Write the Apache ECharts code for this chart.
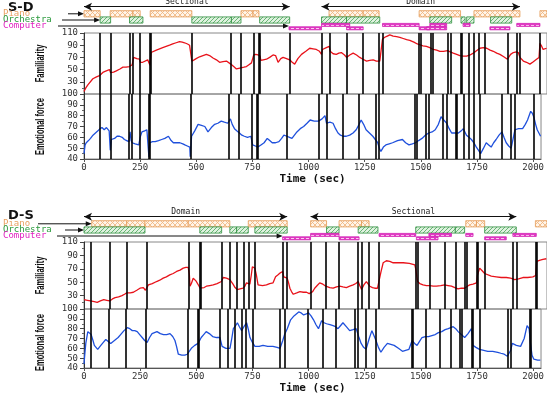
<!DOCTYPE html>
<html>
<head>
<meta charset="utf-8">
<script src="https://cdn.jsdelivr.net/npm/echarts@6.0.0/dist/echarts.min.js"></script>
<style>
  html, body { margin: 0; padding: 0; background: #fff; }
  #chart { width: 547px; height: 395px; }
</style>
</head>
<body>
<div id="chart"></div>
<script>
// time axis (sec)
const timeMax = 2035
const timeTicks = [0, 250, 500, 750, 1000, 1250, 1500, 1750, 2000]

// ---- S-D panel ----
const sdFamiliarity = [[0,14],[8,20],[17,25],[39,35],[55,38],[68,40],[71,43],[85,46],[98,48],[112,50],[117,45],[130,46],[142,48],[158,51],[171,54],[185,54],[200,55],[212,58],[218,70],[232,68],[244,67],[248,62],[258,62],[266,64],[280,66],[288,68],[290,57],[295,78],[303,80],[318,82],[332,84],[346,86],[361,88],[376,90],[390,92],[405,94],[420,96],[432,95],[442,94],[455,92],[464,90],[472,89],[474,64],[484,66],[493,68],[508,71],[523,73],[538,75],[552,73],[567,69],[582,66],[596,62],[611,63],[626,64],[645,59],[658,55],[670,51],[680,52],[690,53],[703,54],[714,55],[725,58],[736,61],[746,74],[755,75],[765,74],[774,72],[777,65],[788,66],[802,67],[816,70],[831,74],[842,73],[853,62],[865,68],[875,70],[890,68],[904,66],[915,62],[926,59],[940,68],[956,75],[975,80],[992,85],[1007,84],[1021,83],[1035,80],[1044,75],[1048,83],[1065,86],[1078,88],[1082,80],[1095,76],[1109,75],[1120,77],[1131,78],[1145,74],[1154,70],[1168,74],[1183,77],[1198,74],[1212,70],[1226,67],[1242,64],[1256,65],[1271,66],[1285,64],[1300,64],[1308,63],[1312,100],[1322,103],[1333,105],[1344,107],[1359,105],[1374,104],[1388,103],[1403,101],[1418,99],[1432,98],[1450,95],[1465,92],[1473,90],[1490,89],[1505,88],[1520,86],[1535,83],[1550,82],[1564,80],[1580,80],[1598,81],[1610,79],[1623,77],[1638,75],[1652,73],[1667,72],[1682,72],[1697,74],[1711,77],[1725,81],[1740,85],[1755,86],[1770,85],[1785,82],[1799,80],[1814,77],[1828,75],[1845,71],[1861,67],[1875,75],[1887,78],[1900,79],[1909,78],[1916,70],[1931,64],[1945,62],[1960,59],[1975,63],[1989,67],[2000,70],[2004,93],[2012,88],[2018,83],[2033,85]]
const sdEmotion = [[0,45],[5,53],[10,55],[20,57],[29,59],[40,62],[51,64],[62,66],[71,68],[80,69],[90,67],[100,69],[105,68],[112,66],[117,48],[122,58],[136,59],[147,61],[158,61],[170,60],[180,58],[190,57],[200,56],[205,65],[210,57],[214,55],[228,54],[244,53],[250,60],[258,65],[270,66],[280,67],[286,66],[289,42],[293,55],[305,56],[317,56],[332,57],[346,58],[360,59],[376,61],[388,57],[398,55],[412,55],[427,55],[440,54],[449,53],[460,52],[471,51],[473,42],[479,61],[493,66],[508,72],[523,71],[538,70],[552,65],[567,69],[582,72],[596,73],[611,75],[625,74],[640,73],[646,75],[652,77],[660,72],[670,68],[680,66],[692,64],[703,62],[714,61],[728,60],[743,61],[751,53],[763,52],[774,51],[788,53],[802,55],[816,59],[827,57],[838,55],[853,55],[868,56],[880,59],[890,62],[904,61],[915,60],[926,59],[937,62],[948,65],[963,68],[978,70],[993,73],[1007,76],[1025,75],[1044,75],[1060,77],[1073,80],[1080,73],[1095,74],[1109,73],[1120,68],[1131,64],[1142,62],[1154,61],[1168,61],[1183,62],[1198,64],[1212,67],[1225,72],[1234,76],[1245,72],[1256,67],[1271,64],[1286,61],[1297,58],[1308,55],[1315,50],[1322,47],[1333,51],[1344,53],[1359,54],[1374,55],[1396,57],[1418,58],[1432,55],[1447,53],[1462,54],[1476,55],[1490,57],[1505,59],[1520,62],[1535,64],[1550,65],[1564,67],[1578,72],[1590,79],[1602,76],[1615,73],[1626,68],[1637,64],[1652,64],[1667,64],[1680,66],[1689,68],[1703,62],[1714,60],[1725,58],[1736,55],[1747,51],[1757,48],[1766,45],[1779,50],[1791,55],[1802,53],[1813,51],[1824,55],[1835,58],[1848,62],[1861,65],[1870,60],[1880,55],[1891,52],[1902,50],[1919,67],[1935,68],[1953,68],[1965,72],[1975,76],[1989,84],[1997,82],[2004,78],[2011,72],[2018,67],[2033,61]]
const sdEvents = [71,117,200,214,247,288,293,474,645,690,746,770,774,904,1044,1080,1154,1224,1297,1312,1473,1481,1523,1535,1598,1613,1654,1660,1689,1714,1737,1762,1861,1902,1916,2004]
const sdPiano = [[0,71],[115,215],[215,247],[291,474],[690,743],[743,769],[1077,1227],[1227,1297],[1473,1655],[1714,1916],[2004,2035]]
const sdOrchestra = [[71,117],[200,259],[474,648],[648,690],[772,904],[1044,1154],[1154,1300],[1520,1616],[1657,1675],[1682,1714],[1787,1880]]
const sdComputer = [[901,1044,1],[1044,1168,0],[1154,1227,1],[1312,1473,0],[1473,1520,1],[1520,1594,0],[1506,1594,1],[1666,1697,0],[1784,1872,1],[1902,2004,0]]
const sdSections = [['Sectional', 0, 904], ['Domain', 1044, 1916]]

// ---- D-S panel ----
const dsFamiliarity = [[0,24],[15,23],[29,22],[45,21],[58,20],[72,22],[87,24],[100,23],[113,22],[125,25],[137,27],[152,28],[167,30],[178,32],[188,34],[203,34],[217,35],[232,38],[246,41],[261,42],[270,38],[275,36],[283,46],[300,48],[319,51],[333,53],[348,56],[362,58],[377,61],[392,63],[407,66],[422,68],[436,71],[448,72],[458,72],[463,62],[466,44],[472,48],[480,56],[492,52],[506,44],[510,41],[516,41],[528,42],[538,44],[553,45],[568,46],[585,48],[604,51],[612,57],[626,56],[641,54],[655,47],[664,42],[673,39],[686,40],[699,41],[707,44],[714,49],[722,47],[729,47],[735,60],[740,73],[751,71],[758,60],[765,46],[785,45],[802,46],[816,48],[831,49],[842,58],[853,61],[863,64],[873,66],[878,58],[893,56],[900,48],[905,41],[912,36],[920,32],[935,34],[949,36],[964,35],[978,35],[990,33],[996,31],[1005,36],[1014,41],[1025,45],[1036,49],[1050,47],[1063,44],[1080,42],[1095,41],[1110,43],[1124,44],[1138,43],[1153,42],[1168,44],[1183,46],[1195,48],[1205,51],[1212,45],[1220,39],[1230,46],[1241,51],[1256,44],[1268,42],[1278,41],[1290,41],[1297,41],[1305,65],[1315,79],[1329,82],[1344,81],[1359,79],[1381,79],[1403,79],[1430,78],[1454,76],[1458,70],[1466,51],[1476,48],[1490,46],[1505,45],[1520,45],[1535,44],[1549,44],[1568,45],[1585,46],[1600,45],[1615,44],[1630,42],[1644,40],[1658,41],[1673,41],[1685,44],[1695,46],[1710,47],[1725,49],[1729,60],[1739,71],[1750,67],[1761,63],[1768,61],[1790,59],[1812,58],[1834,57],[1856,57],[1875,56],[1893,54],[1910,55],[1929,57],[1950,57],[1973,58],[1985,60],[1990,81],[2005,83],[2017,84],[2032,85]]
const dsEmotion = [[0,44],[4,55],[8,65],[17,77],[25,75],[32,74],[40,68],[46,63],[54,61],[61,59],[68,61],[75,63],[86,66],[97,69],[108,67],[119,65],[130,67],[141,69],[152,71],[163,74],[178,78],[193,81],[204,80],[215,78],[226,78],[237,77],[248,74],[259,71],[270,68],[281,66],[292,71],[303,75],[314,76],[325,77],[340,75],[354,74],[368,74],[383,75],[395,72],[405,68],[412,62],[420,54],[435,53],[449,53],[460,54],[468,56],[478,60],[493,63],[508,65],[515,68],[522,71],[533,74],[544,77],[558,75],[573,72],[590,71],[605,71],[610,71],[615,62],[632,60],[650,60],[658,70],[665,80],[675,83],[683,86],[692,82],[702,78],[712,82],[724,86],[732,79],[739,71],[750,66],[761,62],[780,62],[797,63],[818,62],[841,62],[860,61],[873,60],[885,68],[893,74],[905,80],[920,89],[935,93],[956,97],[967,96],[978,94],[990,95],[1000,96],[1011,93],[1022,89],[1033,84],[1044,80],[1058,88],[1069,86],[1080,85],[1095,84],[1109,83],[1120,82],[1131,80],[1142,83],[1153,86],[1168,82],[1183,78],[1198,79],[1212,80],[1223,72],[1234,65],[1245,61],[1256,59],[1270,70],[1282,78],[1291,73],[1300,68],[1311,61],[1322,56],[1336,61],[1351,65],[1366,64],[1381,63],[1400,60],[1418,57],[1432,58],[1447,59],[1461,68],[1472,65],[1483,63],[1494,67],[1505,71],[1520,72],[1534,72],[1549,73],[1564,74],[1578,76],[1593,77],[1608,79],[1622,80],[1644,82],[1655,80],[1666,77],[1680,74],[1695,71],[1710,75],[1725,80],[1732,63],[1745,61],[1761,59],[1780,58],[1798,57],[1820,57],[1842,56],[1856,55],[1871,54],[1885,52],[1893,50],[1900,58],[1907,65],[1925,63],[1944,62],[1960,70],[1973,83],[1982,80],[1988,65],[1995,53],[2003,49],[2010,47],[2020,48],[2032,48]]
const dsEvents = [31,111,188,275,461,507,511,605,641,673,703,722,751,873,893,996,1063,1121,1205,1220,1253,1297,1458,1466,1520,1585,1632,1673,1681,1725,1729,1761,1885,1900,1985,1991]
const dsPiano = [[34,188],[188,268],[268,458],[458,641],[722,893],[996,1066],[1121,1220],[1220,1253],[1678,1725],[1725,1761],[1984,2035]]
const dsOrchestra = [[0,268],[509,605],[641,671],[671,722],[751,893],[1066,1121],[1205,1292],[1458,1632],[1632,1673],[1761,1900]]
const dsComputer = [[873,996,1],[996,1121,0],[1121,1209,1],[1297,1458,0],[1461,1556,1],[1516,1615,0],[1678,1710,0],[1761,1856,1],[1885,1988,0]]
const dsSections = [['Domain', 0, 893], ['Sectional', 996, 1900]]

const MONO = '"DejaVu Sans Mono", monospace'
const RED = '#e8121a'
const BLUE = '#1f50dc'

// header rows, in px below header grid top: piano, orchestra, computer a, computer b
const ROWS = [[8.7, 14.9], [14.9, 21.1], [21.4, 24.4], [24.8, 27.8]]

function pattern (w, h, bg, draw) {
  const c = document.createElement('canvas')
  c.width = w; c.height = h
  const g = c.getContext('2d')
  g.fillStyle = bg
  g.fillRect(0, 0, w, h)
  draw(g)
  return { image: c, repeat: 'repeat' }
}
const pianoFill = pattern(5, 5, '#fff4e8', g => {
  g.strokeStyle = '#efb27a'; g.lineWidth = 0.8
  g.beginPath(); g.moveTo(0, 5); g.lineTo(5, 0); g.moveTo(0, 0); g.lineTo(5, 5); g.stroke()
})
const orchFill = pattern(4, 4, '#dff2df', g => {
  g.strokeStyle = '#4aa55a'; g.lineWidth = 0.8
  g.beginPath(); g.moveTo(-1, 1); g.lineTo(1, -1); g.moveTo(0, 4); g.lineTo(4, 0); g.moveTo(3, 5); g.lineTo(5, 3); g.stroke()
})
const compFill = pattern(5, 3, '#e23cc4', g => {
  g.fillStyle = '#fbc8f0'; g.fillRect(1, 1, 3, 1)
})
const rowStyle = [
  { fill: pianoFill, stroke: '#e59a55' },
  { fill: orchFill, stroke: '#2f8f3f' },
  { fill: compFill, stroke: '#d021b4' },
  { fill: compFill, stroke: '#d021b4' }
]

function headerData (piano, orch, comp) {
  return [
    ...piano.map(d => [d[0], d[1], 0]),
    ...orch.map(d => [d[0], d[1], 1]),
    ...comp.map(d => [d[0], d[1], 2 + d[2]])
  ]
}

function headerSeries (idx, piano, orch, comp, sections) {
  return {
    type: 'custom',
    xAxisIndex: idx,
    yAxisIndex: idx,
    encode: { x: [0, 1] },
    data: headerData(piano, orch, comp),
    renderItem (params, api) {
      const row = api.value(2)
      const a = api.coord([api.value(0), ROWS[row][0]])
      const b = api.coord([api.value(1), ROWS[row][1]])
      return {
        type: 'rect',
        shape: { x: a[0], y: a[1], width: b[0] - a[0], height: b[1] - a[1] },
        style: { fill: rowStyle[row].fill, stroke: rowStyle[row].stroke, lineWidth: 0.8 }
      }
    },
    markLine: {
      silent: true,
      symbol: ['arrow', 'arrow'],
      symbolSize: [6, 8],
      lineStyle: { color: '#111', width: 1, type: 'solid' },
      label: { show: true, position: 'middle', distance: 1, fontSize: 8, fontFamily: MONO, color: '#222', formatter: p => p.name },
      data: sections.map(s => [{ coord: [s[1], 4.7], name: s[0] }, { coord: [s[2], 4.7] }])
    }
  }
}

function eventLines (events) {
  return {
    silent: true,
    symbol: 'none',
    label: { show: false },
    lineStyle: { color: '#000', width: 1.6, type: 'solid' },
    data: events.map(t => ({ xAxis: t }))
  }
}

function lineSeries (idx, data, color, events) {
  return {
    type: 'line',
    xAxisIndex: idx,
    yAxisIndex: idx,
    data: data,
    showSymbol: false,
    lineStyle: { color: color, width: 1.3 },
    itemStyle: { color: color },
    markLine: eventLines(events)
  }
}

const gridBox = { left: 84, width: 463, show: true, borderColor: '#888', borderWidth: 1, backgroundColor: 'transparent' }
const grids = [
  { left: 84, width: 463, top: 2, height: 29 },
  { ...gridBox, top: 33, height: 61 },
  { ...gridBox, top: 94, height: 65 },
  { left: 84, width: 463, top: 212, height: 29 },
  { ...gridBox, top: 242, height: 67 },
  { ...gridBox, top: 309, height: 67 }
]

function xAxisFor (i, labelled) {
  return {
    type: 'value', gridIndex: i, min: 0, max: timeMax, interval: 250,
    show: i % 3 !== 0,
    axisLine: { show: labelled, lineStyle: { color: '#555' } },
    axisTick: { show: labelled, length: 3, lineStyle: { color: '#555' } },
    splitLine: { show: false },
    axisLabel: {
      show: labelled, showMaxLabel: false, margin: 4, fontSize: 9, fontFamily: MONO, color: '#333',
      formatter: v => timeTicks.includes(v) ? String(v) : ''
    },
    name: labelled ? 'Time (sec)' : '',
    nameLocation: 'middle',
    nameGap: 15,
    nameTextStyle: { fontSize: 11, fontWeight: 'bold', fontFamily: MONO, color: '#111' }
  }
}

function yAxisFor (i) {
  const kind = i % 3
  if (kind === 0) return { type: 'value', gridIndex: i, min: 0, max: 29, inverse: true, show: false }
  const fam = kind === 1
  return {
    type: 'value', gridIndex: i,
    min: fam ? 10 : 40, max: fam ? 110 : 100, interval: fam ? 20 : 10,
    axisLine: { show: true, lineStyle: { color: '#333' } },
    axisTick: { show: true, length: 4, lineStyle: { color: '#444' } },
    minorTick: { show: true, splitNumber: 2, length: 2, lineStyle: { color: '#666' } },
    splitLine: { show: false },
    axisLabel: { showMinLabel: !fam, margin: 6, fontSize: 9, fontFamily: MONO, color: '#333' }
  }
}

const chart = echarts.init(document.getElementById('chart'), null, { renderer: 'canvas' })

chart.setOption({
  animation: false,
  backgroundColor: '#fff',
  grid: grids,
  xAxis: grids.map((g, i) => xAxisFor(i, i % 3 === 2)),
  yAxis: grids.map((g, i) => yAxisFor(i)),
  series: [
    headerSeries(0, sdPiano, sdOrchestra, sdComputer, sdSections),
    lineSeries(1, sdFamiliarity, RED, sdEvents),
    lineSeries(2, sdEmotion, BLUE, sdEvents),
    headerSeries(3, dsPiano, dsOrchestra, dsComputer, dsSections),
    lineSeries(4, dsFamiliarity, RED, dsEvents),
    lineSeries(5, dsEmotion, BLUE, dsEvents)
  ]
})

// condensed, rotated axis titles centred on each plot grid
function axisTitle (gridIdx, text) {
  const g = grids[gridIdx]
  return {
    type: 'text', x: 40, y: g.top + g.height / 2, rotation: Math.PI / 2, scaleX: 0.58,
    style: { text: text, font: 'bold 13px "Liberation Sans", Arial, sans-serif', fill: '#111', align: 'center', verticalAlign: 'middle' }
  }
}

// instrument labels with arrows pointing at each row's first block
function legendGraphics (hIdx, title, titleY, starts, piano, orch, comp) {
  const out = [{
    type: 'text', left: 8, top: titleY,
    style: { text: title, font: 'bold 13px "DejaVu Sans", sans-serif', fill: '#111' }
  }]
  const rows = [
    { name: 'Piano', color: '#e8a060', yv: (ROWS[0][0] + ROWS[0][1]) / 2, first: piano[0][0] },
    { name: 'Orchestra', color: '#2a9a3c', yv: (ROWS[1][0] + ROWS[1][1]) / 2, first: orch[0][0] },
    { name: 'Computer', color: '#e020c0', yv: 24, first: comp[0][0] }
  ]
  rows.forEach((r, k) => {
    const end = chart.convertToPixel({ gridIndex: hIdx }, [r.first, r.yv])
    const y = end[1]
    out.push({
      type: 'text', left: 3, top: y - 5,
      style: { text: r.name, font: '9px ' + MONO, fill: r.color }
    })
    out.push({
      type: 'line', shape: { x1: starts[k], y1: y, x2: end[0] - 4, y2: y },
      style: { stroke: '#111', lineWidth: 1 }
    })
    out.push({
      type: 'polygon', shape: { points: [[end[0] - 6, y - 2.5], [end[0], y], [end[0] - 6, y + 2.5]] },
      style: { fill: '#111' }
    })
  })
  return out
}

chart.setOption({
  graphic: [
    ...legendGraphics(0, 'S-D', 1, [68, 62, 58], sdPiano, sdOrchestra, sdComputer),
    ...legendGraphics(3, 'D-S', 209, [38, 65, 57], dsPiano, dsOrchestra, dsComputer),
    axisTitle(1, 'Familiarity'),
    axisTitle(2, 'Emotional force'),
    axisTitle(4, 'Familiarity'),
    axisTitle(5, 'Emotional force')
  ]
})
</script>
</body>
</html>
